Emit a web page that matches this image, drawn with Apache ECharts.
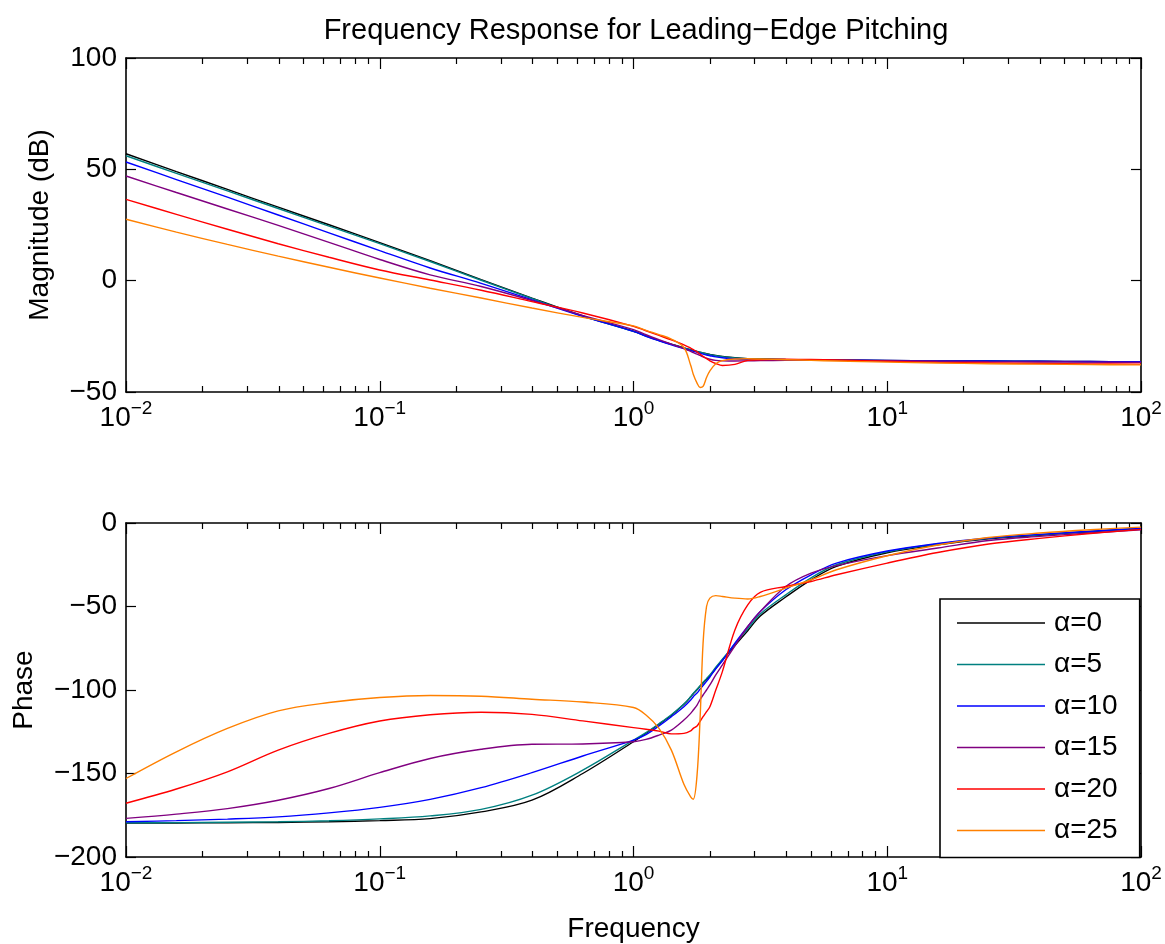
<!DOCTYPE html>
<html>
<head>
<meta charset="utf-8">
<script src="https://cdn.jsdelivr.net/npm/echarts@6/dist/echarts.min.js"></script>
<style>
html, body { margin: 0; padding: 0; background: #fff; }
#main { width: 1165px; height: 944px; }
</style>
</head>
<body>
<div id="main"></div>
<script>
// frequencies shared by every curve
var FREQ = [0.01, 0.0158, 0.0251, 0.0398, 0.0631, 0.1, 0.158, 0.251, 0.398, 0.631,
            1.0, 1.12, 1.26, 1.41, 1.58, 1.68, 1.72, 1.78, 1.83, 1.88,
            1.94, 2.0, 2.11, 2.24, 2.51, 2.82, 3.16, 3.98, 5.01, 6.31,
            10, 15.8, 25.1, 39.8, 63.1, 100];

var NAMES = ['α=0', 'α=5', 'α=10', 'α=15', 'α=20', 'α=25'];
var COLORS = ['#000000', '#008080', '#0000ff', '#800080', '#ff0000', '#ff8000'];

// magnitude (dB)
var MAG_A0  = [57, 49, 41, 33, 25.1, 17.1, 9, 0.5, -7.8, -15.8, -22.7, -24.8, -26.8, -28.5, -30.2, -31, -31.3, -31.8, -32.1, -32.4, -32.8, -33.1, -33.6, -34, -34.6, -35, -35.2, -35.4, -35.5, -35.6, -35.8, -36, -36.1, -36.2, -36.3, -36.4];
var MAG_A5  = [56.1, 48.2, 40.3, 32.4, 24.5, 16.6, 8.6, 0.2, -8.0, -15.9, -22.8, -24.9, -26.9, -28.6, -30.2, -31.1, -31.4, -31.9, -32.2, -32.5, -32.9, -33.2, -33.7, -34.1, -34.7, -35.1, -35.3, -35.5, -35.6, -35.7, -35.9, -36.1, -36.2, -36.3, -36.4, -36.5];
var MAG_A10 = [53.3, 45.4, 37.5, 29.5, 21.5, 13.5, 5.7, -1.2, -8.6, -16.0, -22.8, -25.0, -27.0, -28.8, -30.5, -31.4, -31.7, -32.2, -32.6, -33.0, -33.4, -33.7, -34.2, -34.6, -35.1, -35.4, -35.5, -35.6, -35.7, -35.7, -35.8, -36.0, -36.1, -36.2, -36.3, -36.4];
var MAG_A15 = [47, 39.6, 32.2, 24.8, 17.2, 9.5, 2.6, -2.6, -8.9, -15.6, -22, -24.3, -26.5, -28.5, -30.5, -31.8, -32.3, -33, -33.6, -34.2, -34.8, -35.3, -35.8, -36, -36.1, -36, -35.9, -35.8, -35.8, -35.8, -36, -36.2, -36.4, -36.5, -36.6, -36.7];
var MAG_A20 = [36.5, 29.8, 23.1, 16.6, 10.5, 4.8, 0.3, -4.3, -9.4, -14.5, -20.5, -22.5, -24.6, -26.6, -28.8, -30.3, -31, -32, -33, -34, -35, -36, -37.2, -38.1, -37.6, -35.8, -35.5, -35.3, -35.4, -35.6, -36.2, -36.7, -37, -37.2, -37.4, -37.5];
var MAG_A25 = [27.6, 21.8, 16.3, 11.0, 6.0, 1.2, -3.4, -7.8, -12.3, -16.5, -20.3, -22.3, -24.2, -26.2, -30, -38, -42, -46, -48, -47.5, -43.5, -40.5, -37.3, -35.9, -35.2, -35.1, -35.2, -35.5, -35.8, -36.1, -36.6, -37, -37.3, -37.5, -37.7, -37.8];

// phase (deg)
var PH_A0  = [-179.7, -179.6, -179.5, -179.3, -178.9, -178.2, -177, -173, -166, -150, -131, -125.9, -120.5, -115.1, -108.6, -104.2, -102.2, -99.9, -97.7, -95.8, -93.7, -91.5, -87, -82, -73.4, -64.5, -55.7, -44.3, -34, -26, -17.8, -13.1, -9.5, -7.3, -5.2, -3.2];
var PH_A5  = [-179.5, -179.4, -179.2, -178.9, -178.3, -177.2, -175.4, -171.5, -163, -148, -130, -125.5, -120.2, -114.8, -108.4, -104, -102, -99.6, -97.4, -95.4, -93.2, -91, -86.4, -81.5, -72.5, -63.3, -54.5, -43, -32.8, -25, -17.2, -12.6, -9.2, -7, -5, -3.2];
var PH_A10 = [-178.9, -178.2, -177.3, -176, -173.6, -170.3, -165.5, -158.5, -149.5, -139.5, -130, -126.7, -121.5, -116, -110, -106, -104, -101.8, -99.5, -97.3, -94.8, -92.2, -87.3, -82.5, -72, -62, -53, -40, -31, -24, -16.8, -12.3, -9, -6.8, -4.9, -3.2];
var PH_A15 = [-176.9, -174.3, -171, -166, -159, -149.5, -141, -135.5, -132.5, -132.3, -131, -129.6, -127, -124, -118, -114, -112, -109, -105.7, -103, -100, -97, -91, -85, -73.5, -62, -53, -38, -30, -25.5, -19.5, -15, -10.5, -8, -6, -4];
var PH_A20 = [-167.8, -159.3, -149, -136, -126, -118.6, -114.8, -113.3, -114.6, -118.5, -122.5, -123.5, -124.6, -126.3, -126, -124.5, -123, -121.5, -118.8, -116, -113, -110, -100, -89, -64, -49, -41.5, -38, -35, -31, -24, -17.7, -12.6, -9.2, -6.3, -3.8];
var PH_A25 = [-153, -137, -123, -112.5, -107.5, -104.5, -103.3, -103.7, -105.5, -107.2, -110.5, -115, -123, -136, -156.5, -164, -165.4, -151, -117, -72, -50, -45, -43.5, -44, -45, -45.5, -44, -39, -34, -28, -19.6, -13.2, -8.7, -6, -4, -2.5];

var MAG = [MAG_A0, MAG_A5, MAG_A10, MAG_A15, MAG_A20, MAG_A25];
var PHASE = [PH_A0, PH_A5, PH_A10, PH_A15, PH_A20, PH_A25];

var MAJOR_TICKS = [0.01, 0.1, 1, 10, 100];
var MINOR_TICKS = [0.02, 0.03, 0.04, 0.05, 0.06, 0.07, 0.08, 0.09,
                   0.2, 0.3, 0.4, 0.5, 0.6, 0.7, 0.8, 0.9,
                   2, 3, 4, 5, 6, 7, 8, 9,
                   20, 30, 40, 50, 60, 70, 80, 90];

var FONT = '"Liberation Sans", Arial, Helvetica, sans-serif';
var FS = 28;

var chart = echarts.init(document.getElementById('main'));

function minus(v) {
    return String(v).replace('-', '\u2212');
}

function logLabel(v) {
    var e = Math.round(Math.log10(v));
    return '{b|10}{s|' + (e < 0 ? '\u2212' + (-e) : e) + '}';
}

function xAxes(grid, withName) {
    var base = {
        type: 'log', logBase: 10, gridIndex: grid, min: 0.01, max: 100,
        splitLine: { show: false }
    };
    var axisLine = { show: true, onZero: false, lineStyle: { color: '#000', width: 1.6 } };
    var tickStyle = { color: '#000', width: 1.2 };
    return [
        Object.assign({}, base, {
            position: 'bottom',
            axisLine: axisLine,
            axisTick: { show: true, inside: true, length: 11, customValues: MAJOR_TICKS, lineStyle: tickStyle },
            axisLabel: {
                customValues: MAJOR_TICKS, margin: 7, formatter: logLabel,
                rich: {
                    b: { fontSize: FS, fontFamily: FONT, color: '#000', lineHeight: 38 },
                    s: { fontSize: 19, fontFamily: FONT, color: '#000', lineHeight: 18, verticalAlign: 'top' }
                }
            },
            name: withName ? 'Frequency' : '',
            nameLocation: 'middle', nameGap: 58,
            nameTextStyle: { fontSize: FS, fontFamily: FONT, color: '#000' }
        }),
        Object.assign({}, base, {
            position: 'bottom',
            axisLine: { show: false, onZero: false },
            axisTick: { show: true, inside: true, length: 6, customValues: MINOR_TICKS, lineStyle: tickStyle },
            axisLabel: { show: false }
        }),
        Object.assign({}, base, {
            position: 'top',
            axisLine: axisLine,
            axisTick: { show: true, inside: true, length: 11, customValues: MAJOR_TICKS, lineStyle: tickStyle },
            axisLabel: { show: false }
        }),
        Object.assign({}, base, {
            position: 'top',
            axisLine: { show: false, onZero: false },
            axisTick: { show: true, inside: true, length: 6, customValues: MINOR_TICKS, lineStyle: tickStyle },
            axisLabel: { show: false }
        })
    ];
}

function yAxes(grid, min, max, name, gap) {
    var axisLine = { show: true, onZero: false, lineStyle: { color: '#000', width: 1.6 } };
    var tick = { show: true, inside: true, length: 10, lineStyle: { color: '#000', width: 1.2 } };
    return [
        {
            type: 'value', gridIndex: grid, min: min, max: max, interval: 50,
            position: 'left', axisLine: axisLine, axisTick: tick,
            splitLine: { show: false },
            axisLabel: { fontSize: FS, fontFamily: FONT, color: '#000', margin: 9, formatter: minus },
            name: name, nameLocation: 'middle', nameGap: gap,
            nameTextStyle: { fontSize: FS, fontFamily: FONT, color: '#000' }
        },
        {
            type: 'value', gridIndex: grid, min: min, max: max, interval: 50,
            position: 'right', axisLine: axisLine, axisTick: tick,
            splitLine: { show: false }, axisLabel: { show: false }
        }
    ];
}

var series = [];
NAMES.forEach(function (n, i) {
    series.push({
        name: n, type: 'line', xAxisIndex: 0, yAxisIndex: 0,
        symbol: 'none', smooth: 0.35, color: COLORS[i],
        lineStyle: { width: 1.4, color: COLORS[i] },
        data: FREQ.map(function (f, k) { return [f, MAG[i][k]]; })
    });
});
NAMES.forEach(function (n, i) {
    series.push({
        name: n, type: 'line', xAxisIndex: 4, yAxisIndex: 2,
        symbol: 'none', smooth: 0.35, color: COLORS[i],
        lineStyle: { width: 1.4, color: COLORS[i] },
        data: FREQ.map(function (f, k) { return [f, PHASE[i][k]]; })
    });
});

var option = {
    backgroundColor: '#fff',
    animation: false,
    title: {
        text: 'Frequency Response for Leading\u2212Edge Pitching',
        left: 631, top: 11, textAlign: 'center',
        textStyle: { fontSize: 29, fontWeight: 'normal', fontFamily: FONT, color: '#000' }
    },
    legend: {
        orient: 'vertical', left: 940, top: 599,
        data: NAMES,
        icon: 'rect',
        itemWidth: 88, itemHeight: 1.5, itemGap: 13.5,
        padding: [10, 22, 13, 17],
        borderColor: '#000', borderWidth: 1.6, backgroundColor: '#fff',
        textStyle: { fontSize: FS, lineHeight: 24, fontFamily: FONT, color: '#000', padding: [0, 0, 0, 4] }
    },
    grid: [
        { left: 126, top: 58, width: 1015, height: 334 },
        { left: 126, top: 523, width: 1015, height: 335 }
    ],
    xAxis: xAxes(0, false).concat(xAxes(1, true)),
    yAxis: yAxes(0, -50, 100, 'Magnitude (dB)', 72).concat(yAxes(1, -200, 0, 'Phase', 88)),
    series: series
};

chart.setOption(option);
</script>
</body>
</html>
